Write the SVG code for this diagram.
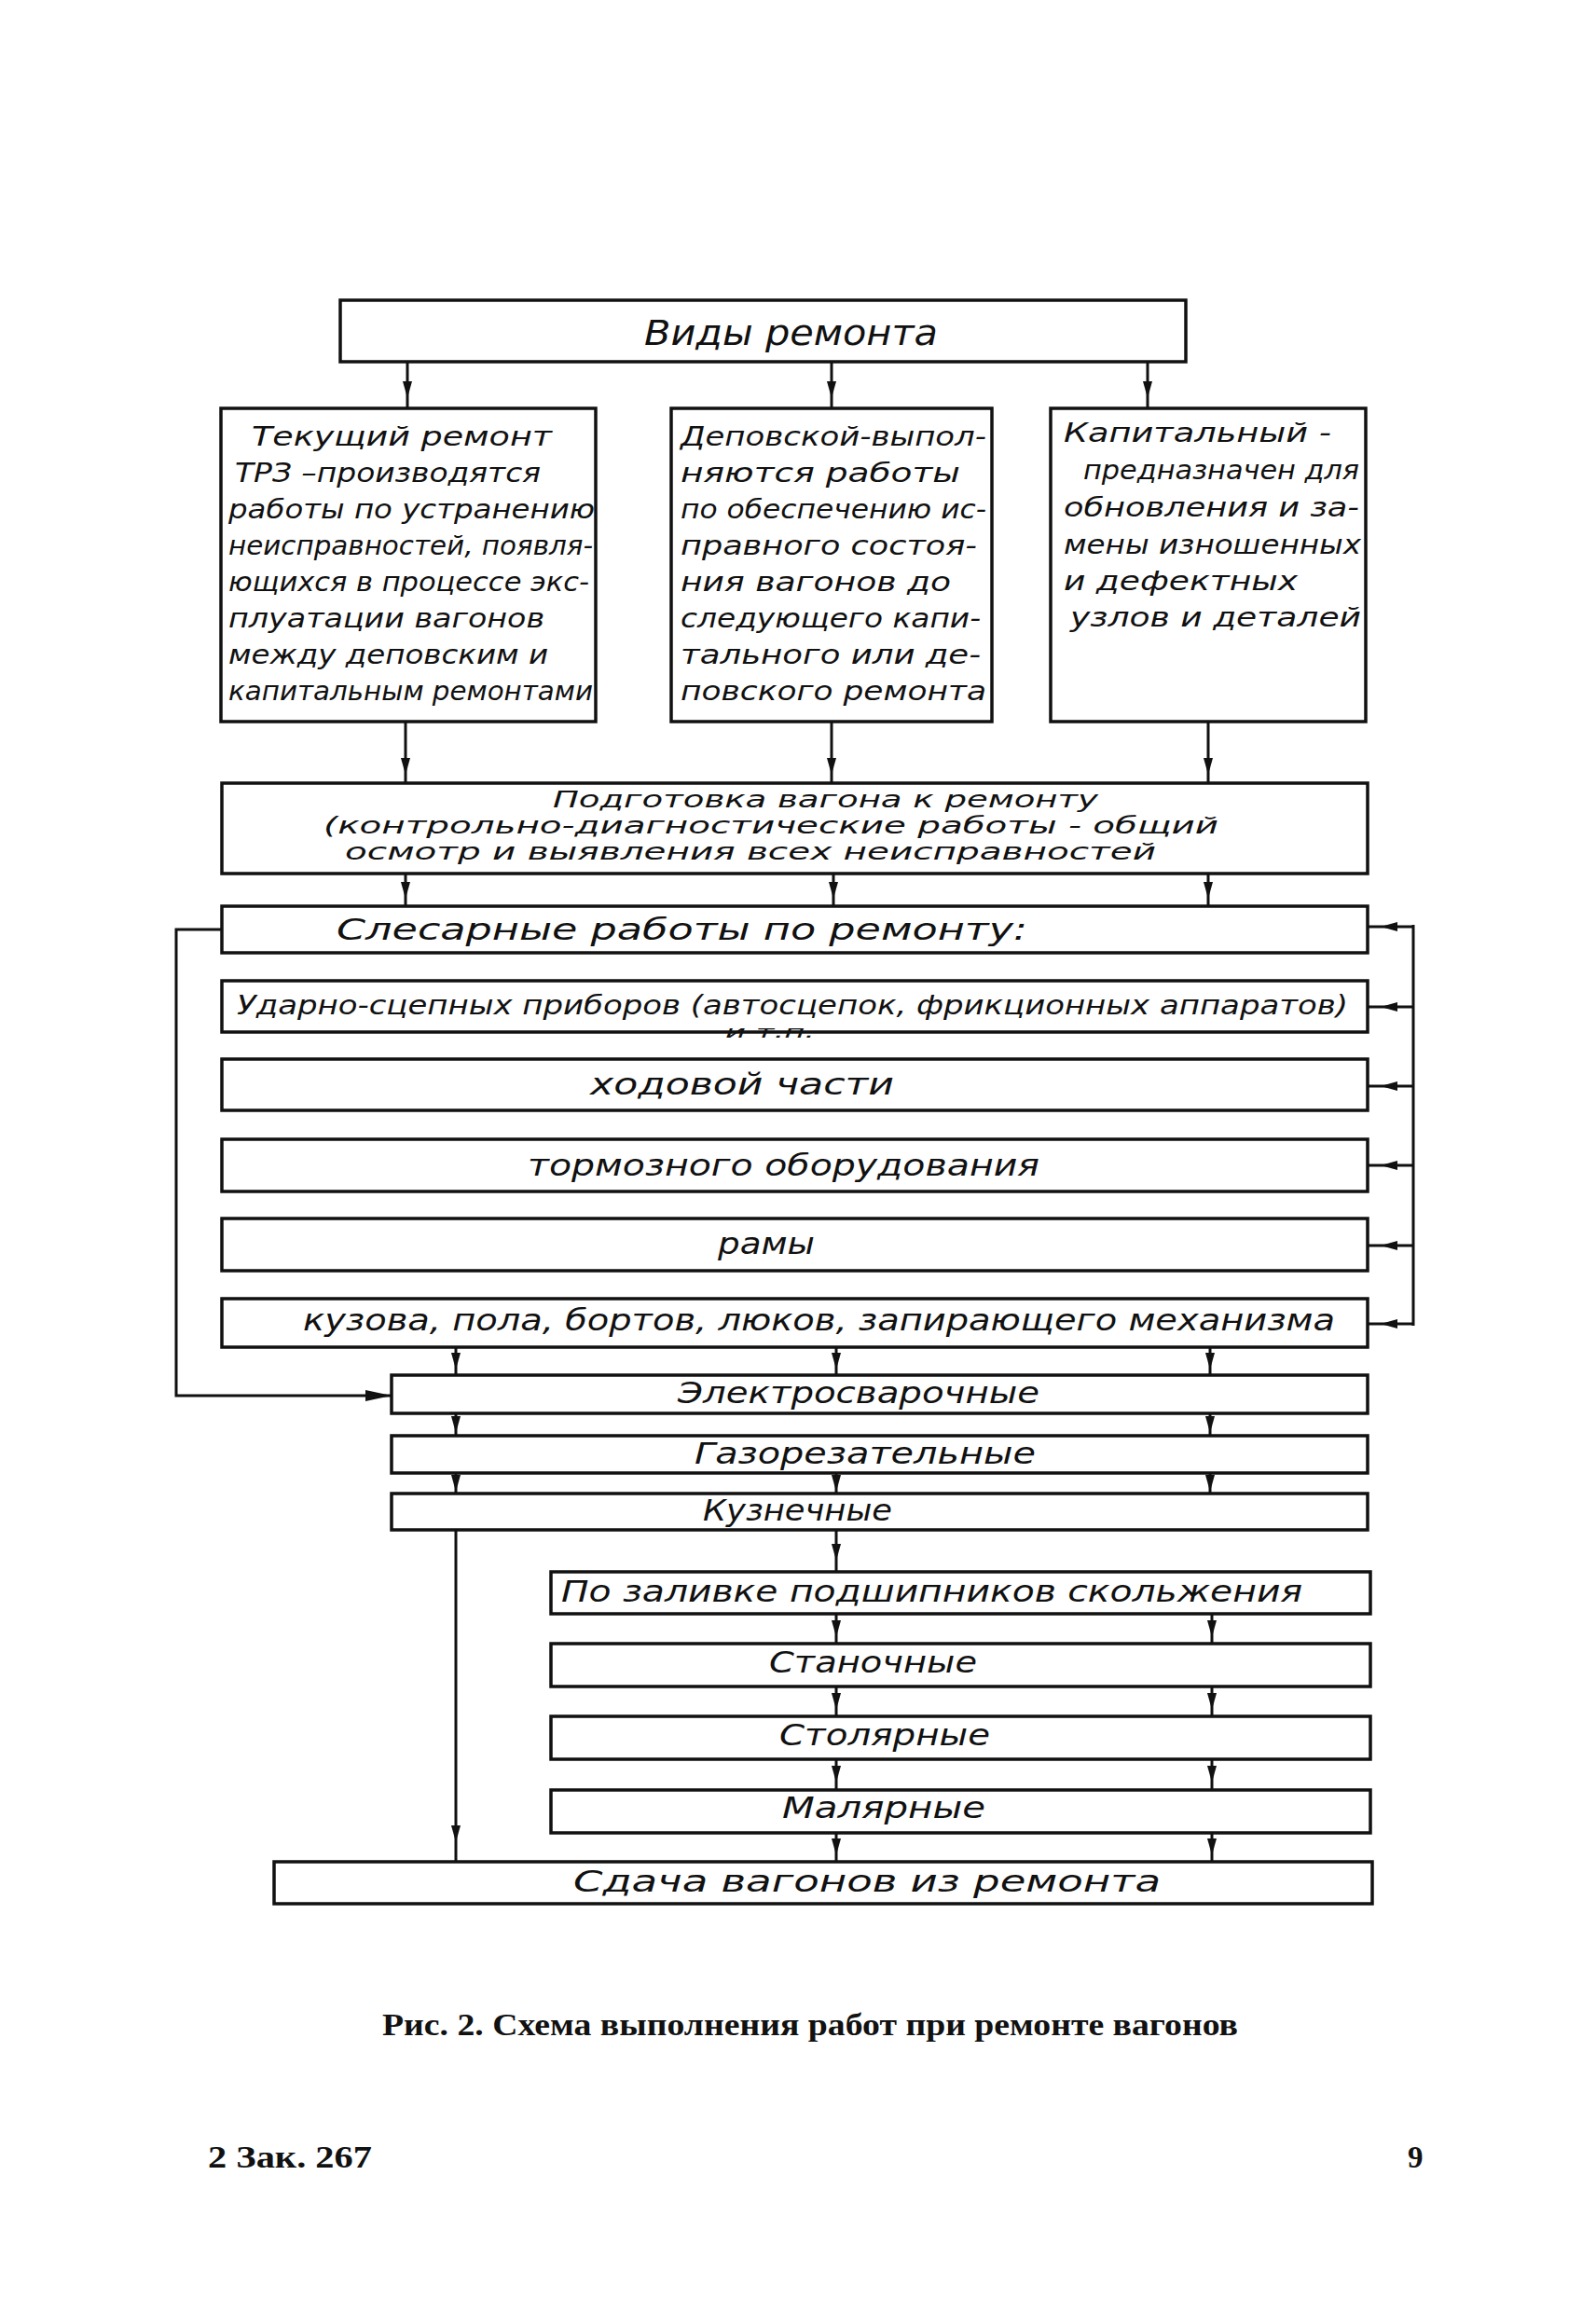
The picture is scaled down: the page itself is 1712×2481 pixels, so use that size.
<svg xmlns="http://www.w3.org/2000/svg" width="1712" height="2481" viewBox="0 0 1712 2481">
<style>
.box{fill:none;stroke:#111;stroke-width:3.5}
.ln{fill:none;stroke:#111;stroke-width:3}
.t{font-family:"DejaVu Sans Condensed","DejaVu Sans",sans-serif;font-style:italic;font-size:32px;fill:#111}
.u{font-size:29px}
.s{font-size:24px}
.cap{font-family:"Liberation Serif",serif;font-weight:bold;font-size:33px;fill:#111}
</style>
<defs>
<marker id="am" viewBox="0 0 18 10" refX="9" refY="5" markerWidth="18" markerHeight="10" markerUnits="userSpaceOnUse" orient="auto"><path d="M0,0 L18,5 L0,10 z" fill="#111"/></marker>
<marker id="ae" viewBox="0 0 28 12" refX="28" refY="6" markerWidth="28" markerHeight="12" markerUnits="userSpaceOnUse" orient="auto"><path d="M0,0 L28,6 L0,12 z" fill="#111"/></marker>
</defs>
<rect width="1712" height="2481" fill="#fff"/>

<g id="connectors">
<polyline class="ln" marker-mid="url(#am)" points="437,388 437,418 437,438"/>
<polyline class="ln" marker-mid="url(#am)" points="892,388 892,418 892,438"/>
<polyline class="ln" marker-mid="url(#am)" points="1231,388 1231,418 1231,438"/>
<polyline class="ln" marker-mid="url(#am)" points="435,774 435,822 435,840"/>
<polyline class="ln" marker-mid="url(#am)" points="892,774 892,822 892,840"/>
<polyline class="ln" marker-mid="url(#am)" points="1296,774 1296,822 1296,840"/>
<polyline class="ln" marker-mid="url(#am)" points="435,937 435,955 435,972"/>
<polyline class="ln" marker-mid="url(#am)" points="894,937 894,955 894,972"/>
<polyline class="ln" marker-mid="url(#am)" points="1296,937 1296,955 1296,972"/>
<line class="ln" x1="1516" y1="992" x2="1516" y2="1422"/>
<polyline class="ln" marker-mid="url(#am)" points="1516,994 1490,994 1467,994"/>
<polyline class="ln" marker-mid="url(#am)" points="1516,1080 1490,1080 1467,1080"/>
<polyline class="ln" marker-mid="url(#am)" points="1516,1165 1490,1165 1467,1165"/>
<polyline class="ln" marker-mid="url(#am)" points="1516,1250 1490,1250 1467,1250"/>
<polyline class="ln" marker-mid="url(#am)" points="1516,1336 1490,1336 1467,1336"/>
<polyline class="ln" marker-mid="url(#am)" points="1516,1420 1490,1420 1467,1420"/>
<polyline class="ln" marker-end="url(#ae)" points="238,997 189,997 189,1497 420,1497"/>
<polyline class="ln" marker-mid="url(#am)" points="489,1445 489,1460 489,1475"/>
<polyline class="ln" marker-mid="url(#am)" points="897,1445 897,1460 897,1475"/>
<polyline class="ln" marker-mid="url(#am)" points="1298,1445 1298,1460 1298,1475"/>
<polyline class="ln" marker-mid="url(#am)" points="489,1516 489,1528 489,1540"/>
<polyline class="ln" marker-mid="url(#am)" points="1298,1516 1298,1528 1298,1540"/>
<polyline class="ln" marker-mid="url(#am)" points="489,1580 489,1591 489,1602"/>
<polyline class="ln" marker-mid="url(#am)" points="897,1580 897,1591 897,1602"/>
<polyline class="ln" marker-mid="url(#am)" points="1298,1580 1298,1591 1298,1602"/>
<polyline class="ln" marker-mid="url(#am)" points="897,1641 897,1665 897,1686"/>
<polyline class="ln" marker-mid="url(#am)" points="489,1641 489,1967 489,1997"/>
<polyline class="ln" marker-mid="url(#am)" points="897,1731 897,1747 897,1763"/>
<polyline class="ln" marker-mid="url(#am)" points="1300,1731 1300,1747 1300,1763"/>
<polyline class="ln" marker-mid="url(#am)" points="897,1809 897,1825 897,1841"/>
<polyline class="ln" marker-mid="url(#am)" points="1300,1809 1300,1825 1300,1841"/>
<polyline class="ln" marker-mid="url(#am)" points="897,1887 897,1903 897,1920"/>
<polyline class="ln" marker-mid="url(#am)" points="1300,1887 1300,1903 1300,1920"/>
<polyline class="ln" marker-mid="url(#am)" points="897,1966 897,1981 897,1997"/>
<polyline class="ln" marker-mid="url(#am)" points="1300,1966 1300,1981 1300,1997"/>
</g>

<g id="n-vidy">
<rect class="box" x="365" y="322" width="907" height="66"/>
<text class="t" x="691" y="370" textLength="315" lengthAdjust="spacingAndGlyphs" style="font-size:38px">Виды ремонта</text>
</g>

<g id="n-tekushchiy">
<rect class="box" x="237" y="438" width="402" height="336"/>
<text class="t u" x="270" y="478" textLength="322" lengthAdjust="spacingAndGlyphs">Текущий ремонт</text>
<text class="t u" x="252" y="517" textLength="328" lengthAdjust="spacingAndGlyphs">ТРЗ –производятся</text>
<text class="t u" x="245" y="556" textLength="393" lengthAdjust="spacingAndGlyphs">работы по устранению</text>
<text class="t u" x="245" y="595" textLength="391" lengthAdjust="spacingAndGlyphs">неисправностей, появля-</text>
<text class="t u" x="245" y="634" textLength="387" lengthAdjust="spacingAndGlyphs">ющихся в процессе экс-</text>
<text class="t u" x="245" y="673" textLength="339" lengthAdjust="spacingAndGlyphs">плуатации вагонов</text>
<text class="t u" x="245" y="712" textLength="343" lengthAdjust="spacingAndGlyphs">между деповским и</text>
<text class="t u" x="245" y="751" textLength="391" lengthAdjust="spacingAndGlyphs">капитальным ремонтами</text>
</g>

<g id="n-depovskoy">
<rect class="box" x="720" y="438" width="344" height="336"/>
<text class="t u" x="730" y="478" textLength="328" lengthAdjust="spacingAndGlyphs">Деповской-выпол-</text>
<text class="t u" x="730" y="517" textLength="300" lengthAdjust="spacingAndGlyphs">няются работы</text>
<text class="t u" x="730" y="556" textLength="328" lengthAdjust="spacingAndGlyphs">по обеспечению ис-</text>
<text class="t u" x="730" y="595" textLength="318" lengthAdjust="spacingAndGlyphs">правного состоя-</text>
<text class="t u" x="730" y="634" textLength="290" lengthAdjust="spacingAndGlyphs">ния вагонов до</text>
<text class="t u" x="730" y="673" textLength="322" lengthAdjust="spacingAndGlyphs">следующего капи-</text>
<text class="t u" x="730" y="712" textLength="322" lengthAdjust="spacingAndGlyphs">тального или де-</text>
<text class="t u" x="730" y="751" textLength="328" lengthAdjust="spacingAndGlyphs">повского ремонта</text>
</g>

<g id="n-kapitalny">
<rect class="box" x="1127" y="438" width="338" height="336"/>
<text class="t u" x="1141" y="474" textLength="287" lengthAdjust="spacingAndGlyphs">Капитальный -</text>
<text class="t u" x="1162" y="514" textLength="296" lengthAdjust="spacingAndGlyphs">предназначен для</text>
<text class="t u" x="1141" y="554" textLength="317" lengthAdjust="spacingAndGlyphs">обновления и за-</text>
<text class="t u" x="1141" y="594" textLength="319" lengthAdjust="spacingAndGlyphs">мены изношенных</text>
<text class="t u" x="1141" y="633" textLength="251" lengthAdjust="spacingAndGlyphs">и дефектных</text>
<text class="t u" x="1148" y="672" textLength="312" lengthAdjust="spacingAndGlyphs">узлов и деталей</text>
</g>

<g id="n-podgotovka">
<rect class="box" x="238" y="840" width="1229" height="97"/>
<text class="t s" x="593" y="866" textLength="585" lengthAdjust="spacingAndGlyphs">Подготовка вагона к ремонту</text>
<text class="t s" x="347" y="894" textLength="960" lengthAdjust="spacingAndGlyphs">(контрольно-диагностические работы - общий</text>
<text class="t s" x="370" y="922" textLength="870" lengthAdjust="spacingAndGlyphs">осмотр и выявления всех неисправностей</text>
</g>

<g id="n-slesarnye">
<rect class="box" x="238" y="972" width="1229" height="50"/>
<text class="t" x="361" y="1008" textLength="741" lengthAdjust="spacingAndGlyphs">Слесарные работы по ремонту:</text>
</g>

<g id="n-udarno">
<rect class="box" x="238" y="1052" width="1229" height="55"/>
<text class="t" x="254" y="1088" textLength="1192" lengthAdjust="spacingAndGlyphs" style="font-size:28px">Ударно-сцепных приборов (автосцепок, фрикционных аппаратов)</text>
<text class="t" x="778" y="1113" textLength="96" lengthAdjust="spacingAndGlyphs" style="font-size:18px">и т.п.</text>
</g>

<g id="n-hodovoy">
<rect class="box" x="238" y="1136" width="1229" height="55"/>
<text class="t" x="633" y="1174" textLength="326" lengthAdjust="spacingAndGlyphs">ходовой части</text>
</g>

<g id="n-tormoznogo">
<rect class="box" x="238" y="1222" width="1229" height="56"/>
<text class="t" x="566" y="1261" textLength="549" lengthAdjust="spacingAndGlyphs">тормозного оборудования</text>
</g>

<g id="n-ramy">
<rect class="box" x="238" y="1307" width="1229" height="56"/>
<text class="t" x="770" y="1345" textLength="104" lengthAdjust="spacingAndGlyphs">рамы</text>
</g>

<g id="n-kuzova">
<rect class="box" x="238" y="1393" width="1229" height="52"/>
<text class="t" x="325" y="1427" textLength="1107" lengthAdjust="spacingAndGlyphs">кузова, пола, бортов, люков, запирающего механизма</text>
</g>

<g id="n-elektro">
<rect class="box" x="420" y="1475" width="1047" height="41"/>
<text class="t" x="727" y="1505" textLength="388" lengthAdjust="spacingAndGlyphs">Электросварочные</text>
</g>

<g id="n-gazorez">
<rect class="box" x="420" y="1540" width="1047" height="40"/>
<text class="t" x="745" y="1570" textLength="366" lengthAdjust="spacingAndGlyphs">Газорезательные</text>
</g>

<g id="n-kuznechnye">
<rect class="box" x="420" y="1602" width="1047" height="39"/>
<text class="t" x="754" y="1631" textLength="203" lengthAdjust="spacingAndGlyphs">Кузнечные</text>
</g>

<g id="n-zalivka">
<rect class="box" x="591" y="1686" width="879" height="45"/>
<text class="t" x="602" y="1718" textLength="795" lengthAdjust="spacingAndGlyphs">По заливке подшипников скольжения</text>
</g>

<g id="n-stanochnye">
<rect class="box" x="591" y="1763" width="879" height="46"/>
<text class="t" x="825" y="1794" textLength="223" lengthAdjust="spacingAndGlyphs">Станочные</text>
</g>

<g id="n-stolyarnye">
<rect class="box" x="591" y="1841" width="879" height="46"/>
<text class="t" x="836" y="1872" textLength="226" lengthAdjust="spacingAndGlyphs">Столярные</text>
</g>

<g id="n-malyarnye">
<rect class="box" x="591" y="1920" width="879" height="46"/>
<text class="t" x="839" y="1950" textLength="218" lengthAdjust="spacingAndGlyphs">Малярные</text>
</g>

<g id="n-sdacha">
<rect class="box" x="294" y="1997" width="1178" height="45"/>
<text class="t" x="615" y="2029" textLength="630" lengthAdjust="spacingAndGlyphs">Сдача вагонов из ремонта</text>
</g>

<text class="cap" x="410" y="2183" textLength="918" lengthAdjust="spacingAndGlyphs">Рис. 2. Схема выполнения работ при ремонте вагонов</text>
<text class="cap" x="223" y="2325" textLength="176" lengthAdjust="spacingAndGlyphs">2 Зак. 267</text>
<text class="cap" x="1510" y="2325">9</text>
</svg>
